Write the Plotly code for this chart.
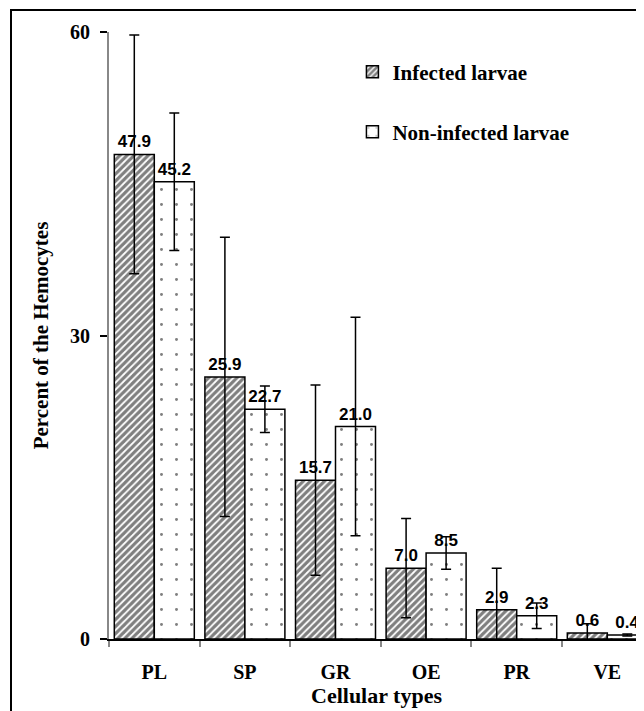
import plotly.graph_objects as go

categories = ["PL", "SP", "GR", "OE", "PR", "VE"]
infected = [47.9, 25.9, 15.7, 7.0, 2.9, 0.6]
infected_err = [11.8, 13.8, 9.4, 4.9, 4.1, 0.9]
noninfected = [45.2, 22.7, 21.0, 8.5, 2.3, 0.4]
noninfected_err = [6.8, 2.3, 10.8, 1.6, 1.25, 0.1]
y_ticks = [0, 30, 60]

SERIF = "Liberation Serif, Times New Roman, serif"
SANS = "Liberation Sans, Arial, sans-serif"

fig = go.Figure()
fig.add_trace(go.Bar(
    x=categories, y=infected, name="Infected larvae", showlegend=True,
    marker=dict(color="white", line=dict(color="black", width=1.5),
                pattern=dict(shape="/", fgcolor="black", bgcolor="white", size=5, solidity=0.65)),
    error_y=dict(type="data", array=infected_err, color="black", thickness=1.5, width=5),
    text=[f"{v:.1f}" for v in infected], textposition="outside",
    textfont=dict(family=SANS, size=17, color="black", weight="bold"),
    cliponaxis=False, legend="legend",
))
fig.add_trace(go.Bar(
    x=categories, y=noninfected, name="Non-infected larvae", showlegend=True,
    marker=dict(color="white", line=dict(color="black", width=1.5),
                pattern=dict(shape=".", fgcolor="black", bgcolor="white", size=15, solidity=0.03)),
    error_y=dict(type="data", array=noninfected_err, color="black", thickness=1.5, width=5),
    text=[f"{v:.1f}" for v in noninfected], textposition="outside",
    textfont=dict(family=SANS, size=17, color="black", weight="bold"),
    cliponaxis=False, legend="legend2",
))

fig.update_layout(
    width=636, height=703,
    margin=dict(l=101, r=0, t=24, b=72),
    plot_bgcolor="white", paper_bgcolor="white",
    barmode="group", bargap=0.117, bargroupgap=0,
    showlegend=True,
    legend=dict(x=0.455, y=0.934, xanchor="left", yanchor="middle", bgcolor="rgba(0,0,0,0)",
                font=dict(family=SERIF, size=21, color="black", weight="bold")),
    legend2=dict(x=0.455, y=0.835, xanchor="left", yanchor="middle", bgcolor="rgba(0,0,0,0)",
                 font=dict(family=SERIF, size=21, color="black", weight="bold")),
    xaxis=dict(
        range=[-0.5, 5.405], showline=True, linecolor="black", linewidth=2,
        ticks="outside", tickson="boundaries", ticklen=6, tickcolor="#888", tickwidth=1.5,
        ticklabelstandoff=14,
        tickfont=dict(family=SERIF, size=20, color="black", weight="bold"),
        title=dict(text="Cellular types", standoff=2,
                   font=dict(family=SERIF, size=22, color="black", weight="bold")),
        showgrid=False,
    ),
    yaxis=dict(
        range=[0, 60], tickvals=y_ticks, showline=True, linecolor="#888", linewidth=2,
        ticks="outside", ticklen=7, tickcolor="black", tickwidth=1.5,
        ticklabelstandoff=6,
        tickfont=dict(family=SERIF, size=20, color="black", weight="bold"),
        title=dict(text="Percent of the Hemocytes", standoff=16,
                   font=dict(family=SERIF, size=21, color="black", weight="bold")),
        showgrid=False, zeroline=False,
    ),
)

fig.add_shape(type="rect", xref="paper", yref="paper",
              x0=(3 - 101) / 535, x1=(660 - 101) / 535,
              y0=(631 - 730) / 607, y1=(631 - 2) / 607,
              line=dict(color="black", width=2), fillcolor="rgba(0,0,0,0)", layer="below")

fig.write_html("out.html")
